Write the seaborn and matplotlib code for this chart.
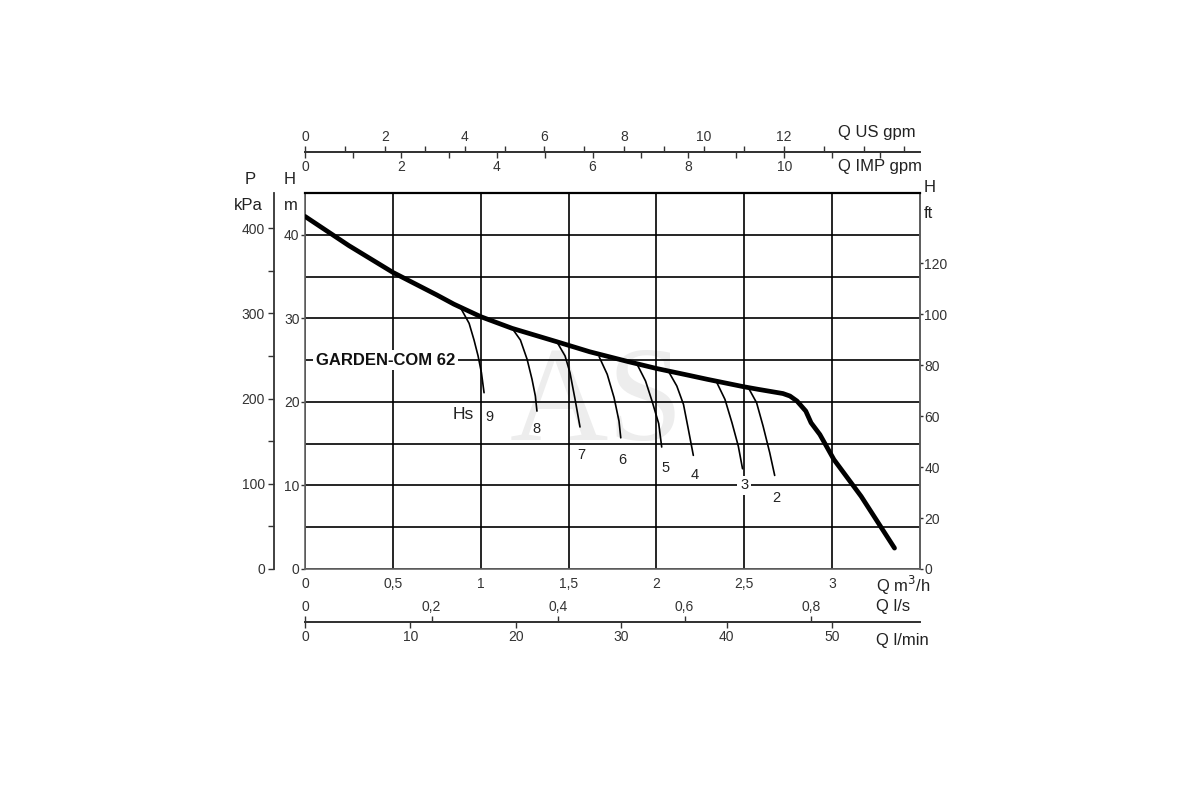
import pandas as pd
import seaborn as sns
import matplotlib.pyplot as plt
from matplotlib import font_manager
from matplotlib.ticker import MultipleLocator, FixedLocator, FuncFormatter

# pump curve GARDEN-COM 62 : head H [m] against flow Q [m3/h]
main_q = [0, 0.1, 0.25, 0.5, 0.75, 0.847, 1.0, 1.179, 1.433, 1.62, 1.843, 2.0, 2.18,
          2.29, 2.5, 2.58, 2.72, 2.76, 2.8, 2.85, 2.88, 2.93, 3.01, 3.165, 3.355]
main_h = [42.2, 40.8, 38.7, 35.5, 32.8, 31.7, 30.2, 28.8, 27.2, 26.0, 24.8, 24.0, 23.2,
          22.7, 21.8, 21.5, 21.0, 20.7, 20.1, 18.9, 17.5, 16.1, 13.1, 8.7, 2.5]

# suction lift curves Hs (m)
hs_names = ['9', '8', '7', '6', '5', '4', '3', '2']
hs_q = [[0.887, 0.934, 0.962, 0.985, 1.004, 1.019],
        [1.179, 1.226, 1.264, 1.292, 1.311, 1.32],
        [1.433, 1.48, 1.508, 1.537, 1.565],
        [1.674, 1.72, 1.759, 1.787, 1.797],
        [1.89, 1.938, 1.975, 2.013, 2.03],
        [2.07, 2.116, 2.154, 2.18, 2.21],
        [2.344, 2.39, 2.43, 2.466, 2.49],
        [2.523, 2.57, 2.607, 2.645, 2.673]]
hs_h = [[31.2, 29.4, 27.4, 25.5, 23.5, 21.1],
        [28.8, 27.4, 25.1, 22.7, 20.7, 18.9],
        [27.2, 25.5, 23.5, 20.3, 17.0],
        [25.4, 23.3, 20.5, 17.7, 15.7],
        [24.5, 22.5, 20.1, 17.4, 14.6],
        [23.6, 21.9, 19.7, 16.9, 13.6],
        [22.3, 20.3, 17.5, 14.7, 12.0],
        [21.7, 19.9, 17.1, 13.9, 11.2]]
hs_label_q = [1.05, 1.316, 1.57, 1.805, 2.05, 2.22, 2.50, 2.68]
hs_label_h = [18.2, 16.8, 13.7, 13.1, 12.1, 11.2, 10.0, 8.5]

q_ticks = [0, 0.5, 1, 1.5, 2, 2.5, 3]
h_ticks = [0, 10, 20, 30, 40]
kpa_ticks = [0, 100, 200, 300, 400]
ft_ticks = [0, 20, 40, 60, 80, 100, 120]
usgpm_ticks = [0, 2, 4, 6, 8, 10, 12]
impgpm_ticks = [0, 2, 4, 6, 8, 10]
ls_ticks = [0, 0.2, 0.4, 0.6, 0.8]
lmin_ticks = [0, 10, 20, 30, 40, 50]

sns.set_theme(style="white")
names = {f.name for f in font_manager.fontManager.ttflist}
narrow = 'Liberation Sans Narrow' if 'Liberation Sans Narrow' in names else 'Liberation Sans'
plt.rcParams['font.family'] = [narrow, 'DejaVu Sans']
plt.rcParams['text.color'] = '#222222'
plt.rcParams['xtick.color'] = '#333333'
plt.rcParams['ytick.color'] = '#333333'

comma = FuncFormatter(lambda v, p: f'{v:g}'.replace('.', ','))

fig = plt.figure(figsize=(12, 8), dpi=100)
ax = fig.add_axes([305 / 1200, 1 - 569 / 800, 615 / 1200, 376 / 800])

hs_df = pd.DataFrame({
    'q': [v for qs in hs_q for v in qs],
    'h': [v for hs in hs_h for v in hs],
    'curve': [n for n, qs in zip(hs_names, hs_q) for _ in qs],
})
sns.lineplot(data=hs_df, x='q', y='h', units='curve', estimator=None, sort=False,
             color='black', lw=1.2, ax=ax, zorder=3,
             solid_joinstyle='round')
sns.lineplot(x=main_q, y=main_h, sort=False, color='black', lw=3.4, ax=ax, zorder=4,
             solid_capstyle='round', solid_joinstyle='round')

ax.set_xlim(0, 3.5)
ax.set_ylim(0, 45)
ax.set_xlabel('')
ax.set_ylabel('')

ax.xaxis.set_major_locator(FixedLocator(q_ticks))
ax.xaxis.set_major_formatter(comma)
ax.yaxis.set_major_locator(FixedLocator(h_ticks))
ax.yaxis.set_minor_locator(MultipleLocator(5))
ax.tick_params(axis='x', length=0, pad=6, labelsize=10)
ax.tick_params(axis='y', which='major', direction='out', length=3, width=1, pad=1, labelsize=10, left=True)
ax.tick_params(axis='y', which='minor', length=0)
ax.grid(True, which='both', color='black', lw=1.2)
for s in ['left', 'bottom', 'right']:
    ax.spines[s].set_color('#666666')
    ax.spines[s].set_linewidth(1.2)
ax.spines['top'].set_color('black')
ax.spines['top'].set_linewidth(1.6)

# watermark
ax.text(1.66, 19.3, 'AS', fontsize=98, color='#ededed', family='Liberation Serif',
        ha='center', va='center', zorder=0.5)

ax.text(0.06, 25, 'GARDEN-COM 62', fontsize=12, weight='bold', color='#111111',
        ha='left', va='center', zorder=5,
        bbox=dict(facecolor='white', edgecolor='none', pad=2))
ax.text(0.90, 18.5, 'Hs', fontsize=12.5, ha='center', va='center', zorder=5)
for name, lq, lh in zip(hs_names, hs_label_q, hs_label_h):
    bb = dict(facecolor='white', edgecolor='none', pad=2) if name == '3' else None
    ax.text(lq, lh, name, fontsize=10.5, ha='center', va='center', zorder=5, bbox=bb)

# secondary scales
top = ax.secondary_xaxis((569 - 152) / 376, functions=(lambda q: q * 4.403, lambda g: g / 4.403))
top.xaxis.set_major_locator(FixedLocator(usgpm_ticks))
top.xaxis.set_minor_locator(MultipleLocator(1))
top.xaxis.set_major_formatter(comma)
top.tick_params(which='both', direction='out', length=4, width=1, pad=2, labelsize=10)

imp = ax.secondary_xaxis((569 - 152) / 376, functions=(lambda q: q * 3.666, lambda g: g / 3.666))
imp.set_alignment('bottom')
imp.xaxis.set_major_locator(FixedLocator(impgpm_ticks))
imp.xaxis.set_minor_locator(MultipleLocator(1))
imp.xaxis.set_major_formatter(comma)
imp.tick_params(which='both', direction='out', length=4, width=1, pad=2, labelsize=10)

ls = ax.secondary_xaxis((569 - 622) / 376, functions=(lambda q: q / 3.6, lambda v: v * 3.6))
ls.set_alignment('top')
ls.xaxis.set_major_locator(FixedLocator(ls_ticks))
ls.xaxis.set_major_formatter(comma)
ls.tick_params(direction='out', length=4, width=1, pad=2, labelsize=10)

lmin = ax.secondary_xaxis((569 - 622) / 376, functions=(lambda q: q * 1000 / 60, lambda v: v * 60 / 1000))
lmin.set_alignment('bottom')
lmin.xaxis.set_major_locator(FixedLocator(lmin_ticks))
lmin.xaxis.set_major_formatter(comma)
lmin.tick_params(direction='out', length=4, width=1, pad=2, labelsize=10)

kpa = ax.secondary_yaxis((274 - 305) / 615, functions=(lambda h: h * 9.81, lambda p: p / 9.81))
kpa.yaxis.set_major_locator(FixedLocator(kpa_ticks))
kpa.yaxis.set_minor_locator(MultipleLocator(50))
kpa.tick_params(which='both', direction='out', length=4.5, width=1, pad=2, labelsize=10)

ft = ax.secondary_yaxis('right', functions=(lambda h: h * 3.281, lambda f: f / 3.281))
ft.yaxis.set_major_locator(FixedLocator(ft_ticks))
ft.tick_params(direction='out', length=2.5, width=1, pad=0.5, labelsize=10)

for sec in [top, imp, ls, lmin, kpa, ft]:
    for sp in sec.spines.values():
        sp.set_color('#333333')
        sp.set_linewidth(1.3)

# axis unit captions
def cap(px, py, s, ha='center', size=12):
    fig.text(px / 1200, 1 - py / 800, s, ha=ha, va='center', fontsize=size)

cap(250, 180, 'P')
cap(248, 206, 'kPa')
cap(290, 180, 'H')
cap(291, 206, 'm')
cap(924, 187, 'H', ha='left')
cap(924, 213, 'ft', ha='left')
cap(838, 132, 'Q US gpm', ha='left')
cap(838, 167, 'Q IMP gpm', ha='left')
cap(876, 585, 'Q m$^3$/h', ha='left')
cap(876, 606, 'Q l/s', ha='left')
cap(876, 640, 'Q l/min', ha='left')

fig.savefig('out.png', dpi=100)
